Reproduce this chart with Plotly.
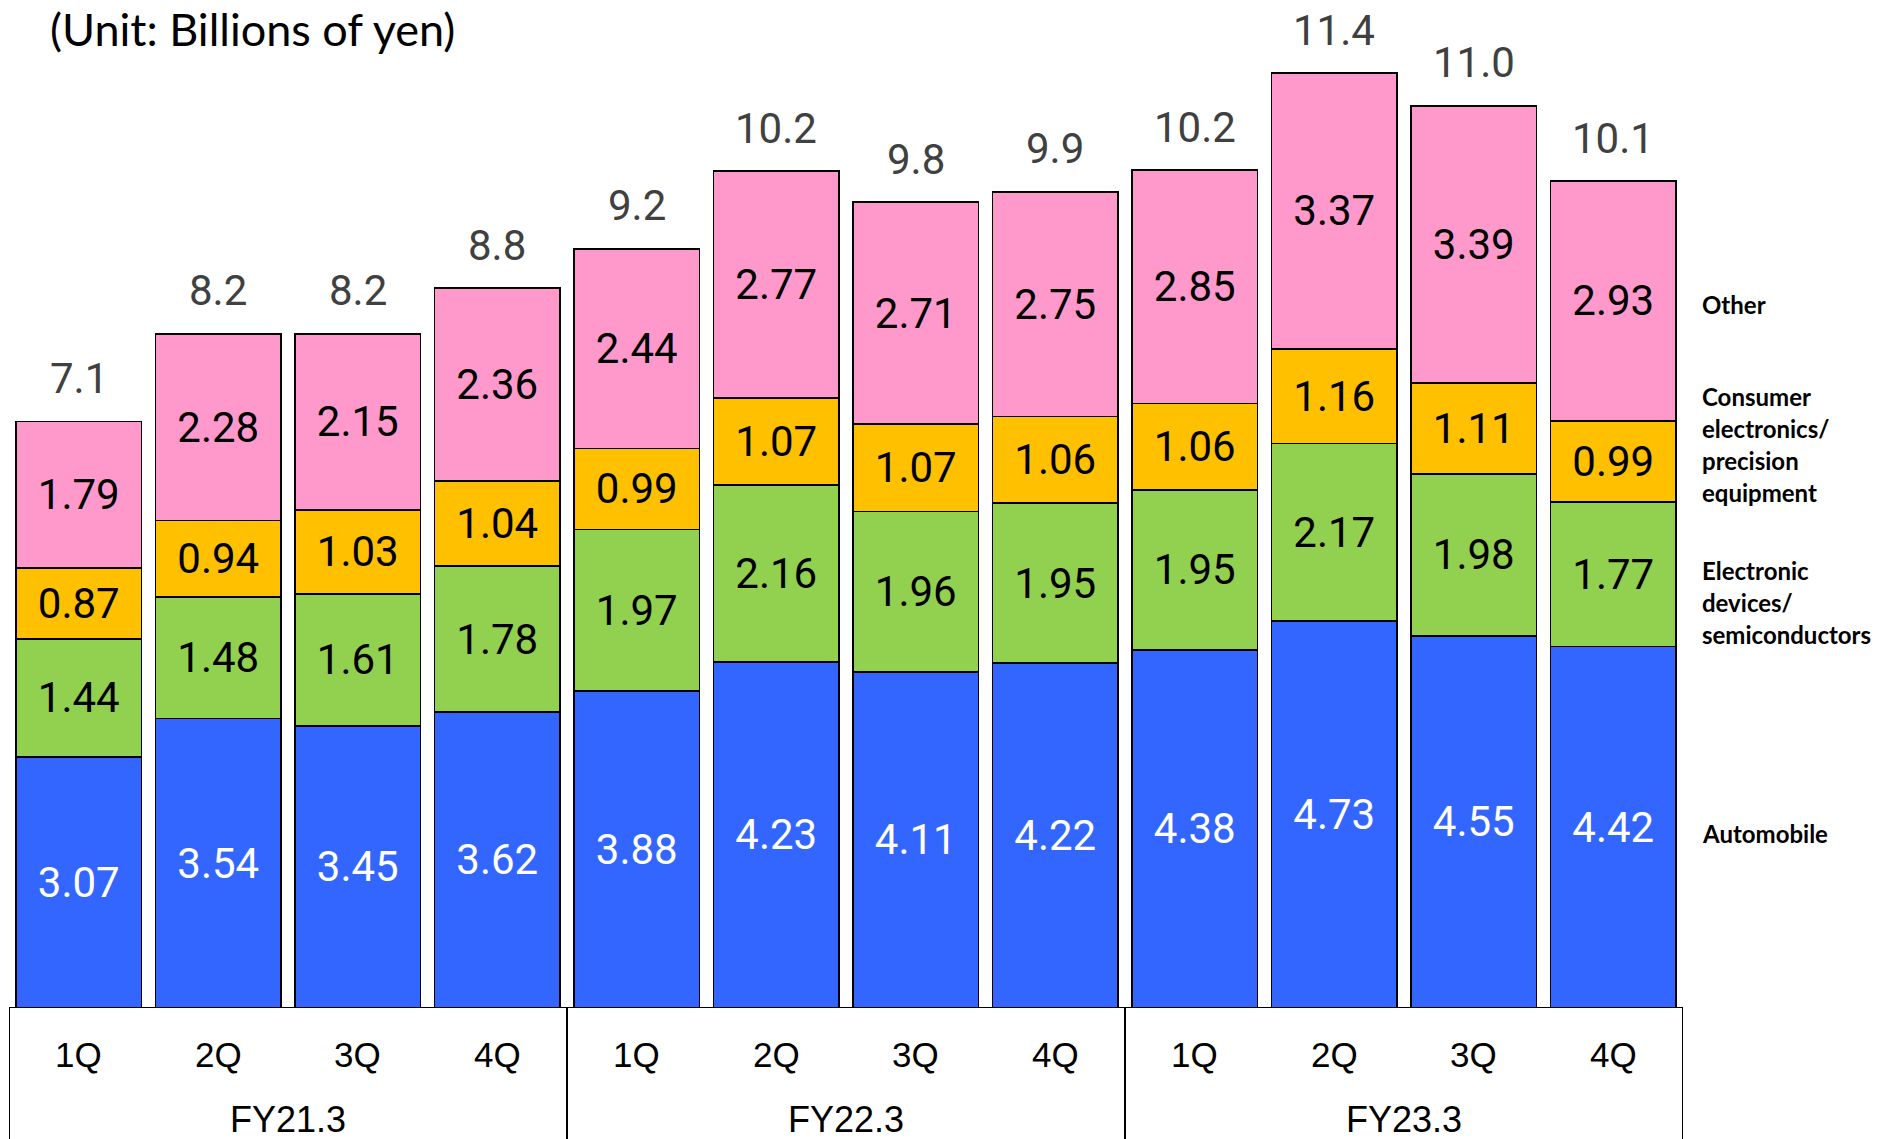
import plotly.graph_objects as go

# Quarterly sales by industry segment (billions of yen)
fiscal_years = ["FY21.3", "FY22.3", "FY23.3"]
quarters = ["1Q", "2Q", "3Q", "4Q"] * 3

automobile = [3.07, 3.54, 3.45, 3.62, 3.88, 4.23, 4.11, 4.22, 4.38, 4.73, 4.55, 4.42]
electronic_devices = [1.44, 1.48, 1.61, 1.78, 1.97, 2.16, 1.96, 1.95, 1.95, 2.17, 1.98, 1.77]
consumer_precision = [0.87, 0.94, 1.03, 1.04, 0.99, 1.07, 1.07, 1.06, 1.06, 1.16, 1.11, 0.99]
other = [1.79, 2.28, 2.15, 2.36, 2.44, 2.77, 2.71, 2.75, 2.85, 3.37, 3.39, 2.93]
totals = [7.1, 8.2, 8.2, 8.8, 9.2, 10.2, 9.8, 9.9, 10.2, 11.4, 11.0, 10.1]

segment_names = ["Automobile", "Electronic devices/semiconductors",
                 "Consumer electronics/precision equipment", "Other"]
segment_lines = [["Automobile"],
                 ["Electronic", "devices/", "semiconductors"],
                 ["Consumer", "electronics/", "precision", "equipment"],
                 ["Other"]]
segment_values = [automobile, electronic_devices, consumer_precision, other]
segment_colors = ["#3366FF", "#92D050", "#FFC000", "#FF99CC"]
label_colors = ["#FFFFFF", "#000000", "#000000", "#000000"]

W, H = 1879, 1139
ML, MR, MT, MB = 9, 196, 0, 131
PLOT_H = H - MT - MB
PX_PER_UNIT = 81.8

x = list(range(len(quarters)))
NUM_FONT = "Roboto"
AXIS_FONT = "Liberation Sans"
TEXT_FONT = "Lato"

fig = go.Figure()
for name, vals, color, lc in zip(segment_names, segment_values, segment_colors, label_colors):
    fig.add_trace(go.Bar(
        x=x, y=vals, name=name,
        marker=dict(color=color, line=dict(color="#000000", width=1.8)),
        width=0.9,
        text=[f"{v:.2f}" for v in vals],
        textposition="inside", insidetextanchor="middle", textangle=0,
        constraintext="none",
        textfont=dict(family=NUM_FONT, size=42, color=lc),
        hoverinfo="skip",
    ))

annotations = []
# Totals above each stacked bar
stack_tops = [sum(s) for s in zip(*segment_values)]
for xi, top, t in zip(x, stack_tops, totals):
    annotations.append(dict(
        x=xi, y=top, xref="x", yref="y", text=f"{t:.1f}", showarrow=False,
        yanchor="middle", yshift=43,
        font=dict(family=NUM_FONT, size=42, color="#404040"),
    ))

# Quarter and fiscal-year labels in the category box
for xi, q in zip(x, quarters):
    annotations.append(dict(
        x=xi, y=-46 / PLOT_H, xref="x", yref="paper", text=q, showarrow=False,
        yanchor="middle", font=dict(family=AXIS_FONT, size=35, color="#000000"),
    ))
for gi, fy in enumerate(fiscal_years):
    annotations.append(dict(
        x=gi * 4 + 1.5, y=-111 / PLOT_H, xref="x", yref="paper", text=fy, showarrow=False,
        yanchor="middle", font=dict(family=AXIS_FONT, size=36, color="#000000"),
    ))

# Segment names at the right of the chart
label_centers = [833, 602, 444, 304]
LINE_STEP = 32
for lines, cy in zip(segment_lines, label_centers):
    n = len(lines)
    for k, line in enumerate(lines):
        py = cy + (k - (n - 1) / 2) * LINE_STEP
        annotations.append(dict(
            x=1.0102, y=(PLOT_H - py) / PLOT_H, xref="paper", yref="paper",
            text=f"<b>{line}</b>", showarrow=False, xanchor="left", yanchor="middle",
            font=dict(family=TEXT_FONT, size=24, color="#000000"),
        ))

# Unit note
annotations.append(dict(
    x=(48 - ML) / (W - ML - MR), y=1, xref="paper", yref="paper",
    text="(Unit: Billions of yen)", showarrow=False, xanchor="left", yanchor="top",
    font=dict(family=TEXT_FONT, size=45, color="#000000"),
))

# Category box: baseline plus group dividers
shapes = [dict(type="line", xref="x", yref="y", x0=-0.5, x1=len(x) - 0.5, y0=0, y1=0,
               line=dict(color="#000000", width=2))]
for b in [-0.5, 3.5, 7.5, 11.5]:
    shapes.append(dict(type="line", xref="x", yref="paper", x0=b, x1=b, y0=0, y1=-0.2,
                       line=dict(color="#000000", width=2)))

fig.update_layout(
    barmode="stack",
    width=W, height=H,
    margin=dict(l=ML, r=MR, t=MT, b=MB),
    paper_bgcolor="#FFFFFF", plot_bgcolor="#FFFFFF",
    showlegend=False,
    xaxis=dict(range=[-0.5, len(x) - 0.5], showticklabels=False, showgrid=False,
               zeroline=False, showline=False, ticks=""),
    yaxis=dict(range=[0, PLOT_H / PX_PER_UNIT], visible=False),
    annotations=annotations,
    shapes=shapes,
)

fig.write_html("out.html")
